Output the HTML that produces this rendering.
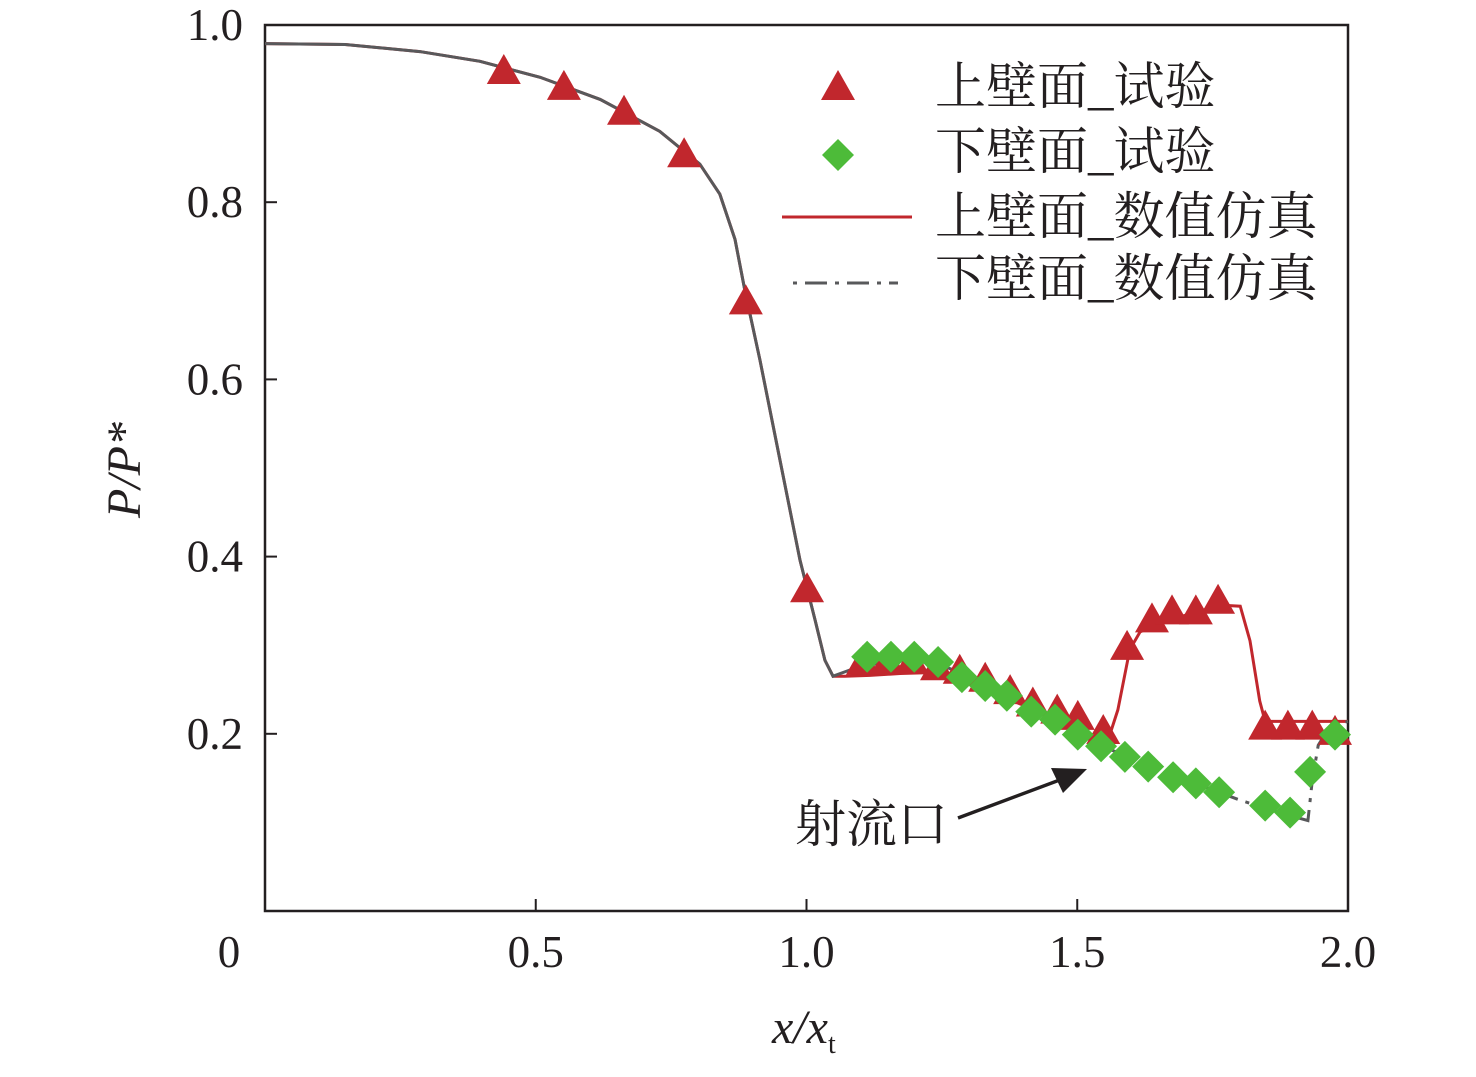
<!DOCTYPE html>
<html><head><meta charset="utf-8"><style>
body{margin:0;background:#fff;}
text{font-family:"Liberation Serif","Noto Serif CJK SC",serif;fill:#231f20;}
</style></head><body>
<svg id="chart" width="1476" height="1072" viewBox="0 0 1476 1072" xmlns="http://www.w3.org/2000/svg">
<g id="plot"></g>
</svg>
<script>
const xTicks=[0,0.5,1.0,1.5,2.0];
const xTickLabels=["0","0.5","1.0","1.5","2.0"];
const yTicks=[0.2,0.4,0.6,0.8,1.0];
const yTickLabels=["0.2","0.4","0.6","0.8","1.0"];
const upperExpX=[0.441,0.552,0.663,0.774,0.888,1.001,1.104,1.150,1.195,1.241,1.283,1.330,1.376,1.418,1.463,1.501,1.548,1.592,1.638,1.675,1.719,1.760,1.847,1.889,1.934,1.976];
const upperExpY=[0.947,0.929,0.901,0.853,0.687,0.362,0.280,0.281,0.281,0.274,0.270,0.261,0.247,0.233,0.225,0.218,0.202,0.297,0.328,0.337,0.337,0.349,0.207,0.207,0.207,0.201];
const lowerExpX=[1.112,1.156,1.199,1.243,1.287,1.330,1.370,1.415,1.459,1.501,1.544,1.588,1.631,1.677,1.719,1.762,1.847,1.893,1.930,1.976];
const lowerExpY=[0.287,0.287,0.287,0.281,0.264,0.254,0.243,0.225,0.216,0.199,0.186,0.174,0.163,0.151,0.144,0.134,0.119,0.111,0.157,0.199];
const upperSimX=[0,0.148,0.286,0.397,0.508,0.619,0.729,0.803,0.840,0.868,0.886,0.914,0.951,0.988,1.016,1.034,1.049,1.071,1.117,1.173,1.228,1.283,1.357,1.450,1.524,1.557,1.575,1.597,1.616,1.653,1.727,1.773,1.801,1.819,1.837,1.847,1.911,2.0];
const upperSimY=[0.979,0.978,0.970,0.959,0.941,0.916,0.880,0.843,0.809,0.758,0.701,0.622,0.509,0.396,0.328,0.283,0.265,0.265,0.266,0.268,0.269,0.260,0.243,0.220,0.199,0.193,0.227,0.295,0.315,0.325,0.339,0.345,0.344,0.305,0.237,0.214,0.214,0.214];
const lowerSimX=[0,0.148,0.286,0.397,0.508,0.619,0.729,0.803,0.840,0.868,0.886,0.914,0.951,0.988,1.016,1.034,1.049,1.080,1.136,1.191,1.247,1.320,1.394,1.468,1.542,1.634,1.727,1.801,1.874,1.926,1.934,1.945,1.967,2.0];
const lowerSimY=[0.979,0.978,0.970,0.959,0.941,0.916,0.880,0.843,0.809,0.758,0.701,0.622,0.509,0.396,0.328,0.283,0.265,0.272,0.280,0.283,0.278,0.260,0.238,0.213,0.187,0.164,0.142,0.125,0.111,0.102,0.147,0.187,0.209,0.214];

const X0=265,X1=1348,Y0=911,Y1=25;
const sx=v=>X0+v/2*(X1-X0);
const sy=v=>Y0-v*(Y0-Y1);
const NS="http://www.w3.org/2000/svg";
const g=document.getElementById('plot');
function mk(t,a,parent){const e=document.createElementNS(NS,t);for(const k in a)e.setAttribute(k,a[k]);(parent||g).appendChild(e);return e;}

const fr=mk('rect',{x:X0,y:Y1,width:X1-X0,height:Y0-Y1,fill:'none',stroke:'#231f20','stroke-width':2.5});


xTicks.forEach((v,i)=>{
  const t=mk('line',{x1:sx(v),x2:sx(v),y1:Y0,y2:Y0-12,stroke:'#231f20','stroke-width':2});
  
  
  const lx=i===0?229:sx(v);
  const l=mk('text',{x:lx,y:967,'font-size':45,'text-anchor':'middle'});
  l.textContent=xTickLabels[i];
  
  
});
yTicks.forEach((v,i)=>{
  const t=mk('line',{x1:X0,x2:X0+12,y1:sy(v),y2:sy(v),stroke:'#231f20','stroke-width':2});
  
  
  const l=mk('text',{x:243,y:sy(v)+15,'font-size':45,'text-anchor':'end'});
  l.textContent=yTickLabels[i];
  
  
});
function pathOf(xs,ys,f){let d='';xs.forEach((x,i)=>{if(f(x))d+=(d?'L':'M')+sx(x)+','+sy(ys[i]);});return d;}
const up=mk('path',{d:pathOf(upperSimX,upperSimY,()=>true),fill:'none',stroke:'#c1272d','stroke-width':3});


const lo1=mk('path',{d:pathOf(lowerSimX,lowerSimY,x=>x<=1.55),fill:'none',stroke:'#58595b','stroke-width':3});


const lo2=mk('path',{d:pathOf(lowerSimX,lowerSimY,x=>x>=1.542),fill:'none',stroke:'#58595b','stroke-width':3,'stroke-dasharray':'22 8 4 8'});


function tri(cx,cy,parent){return mk('polygon',{points:`${cx},${cy-18} ${cx-17},${cy+12} ${cx+17},${cy+12}`,fill:'#c1272d'},parent);}
function dia(cx,cy,parent){return mk('polygon',{points:`${cx},${cy-16} ${cx+16},${cy} ${cx},${cy+16} ${cx-16},${cy}`,fill:'#4dbb39'},parent);}
upperExpX.forEach((x,i)=>{const m=tri(sx(x),sy(upperExpY[i]));
  
  });
lowerExpX.forEach((x,i)=>{const m=dia(sx(x),sy(lowerExpY[i]));
  
  });
</script>
<svg style="position:absolute;left:0;top:0" width="1476" height="1072">
<g>
<polygon points="838,70 821,100 855,100" fill="#c1272d"/>
<polygon points="838,139 854,155 838,171 822,155" fill="#4dbb39"/>
<line x1="782" x2="912" y1="217" y2="217" stroke="#c1272d" stroke-width="3"/>
<line x1="793" x2="898" y1="283" y2="283" stroke="#58595b" stroke-width="3" stroke-dasharray="4 8 22 8"/>
<text x="935" y="104" font-size="51" style="font-family:'Liberation Serif','Noto Serif CJK SC',serif">上壁面_试验</text>
<text x="935" y="169" font-size="51" style="font-family:'Liberation Serif','Noto Serif CJK SC',serif">下壁面_试验</text>
<text x="935" y="234" font-size="51" style="font-family:'Liberation Serif','Noto Serif CJK SC',serif">上壁面_数值仿真</text>
<text x="935" y="296" font-size="51" style="font-family:'Liberation Serif','Noto Serif CJK SC',serif">下壁面_数值仿真</text>
</g>
<text x="795" y="842" font-size="51" style="font-family:'Liberation Serif','Noto Serif CJK SC',serif">射流口</text>
<line x1="958" y1="818" x2="1065" y2="778" stroke="#231f20" stroke-width="3.5"/>
<polygon points="1087,769 1051,768 1063,793" fill="#231f20"/>
<text transform="translate(140,470) rotate(-90)" text-anchor="middle" font-size="48" font-style="italic" style="font-family:'Liberation Serif',serif">P/P*</text>
<text x="772" y="1043" font-size="48" font-style="italic" style="font-family:'Liberation Serif',serif">x/x<tspan font-size="28" font-style="normal" dy="10">t</tspan></text>
</svg>
</body></html>
